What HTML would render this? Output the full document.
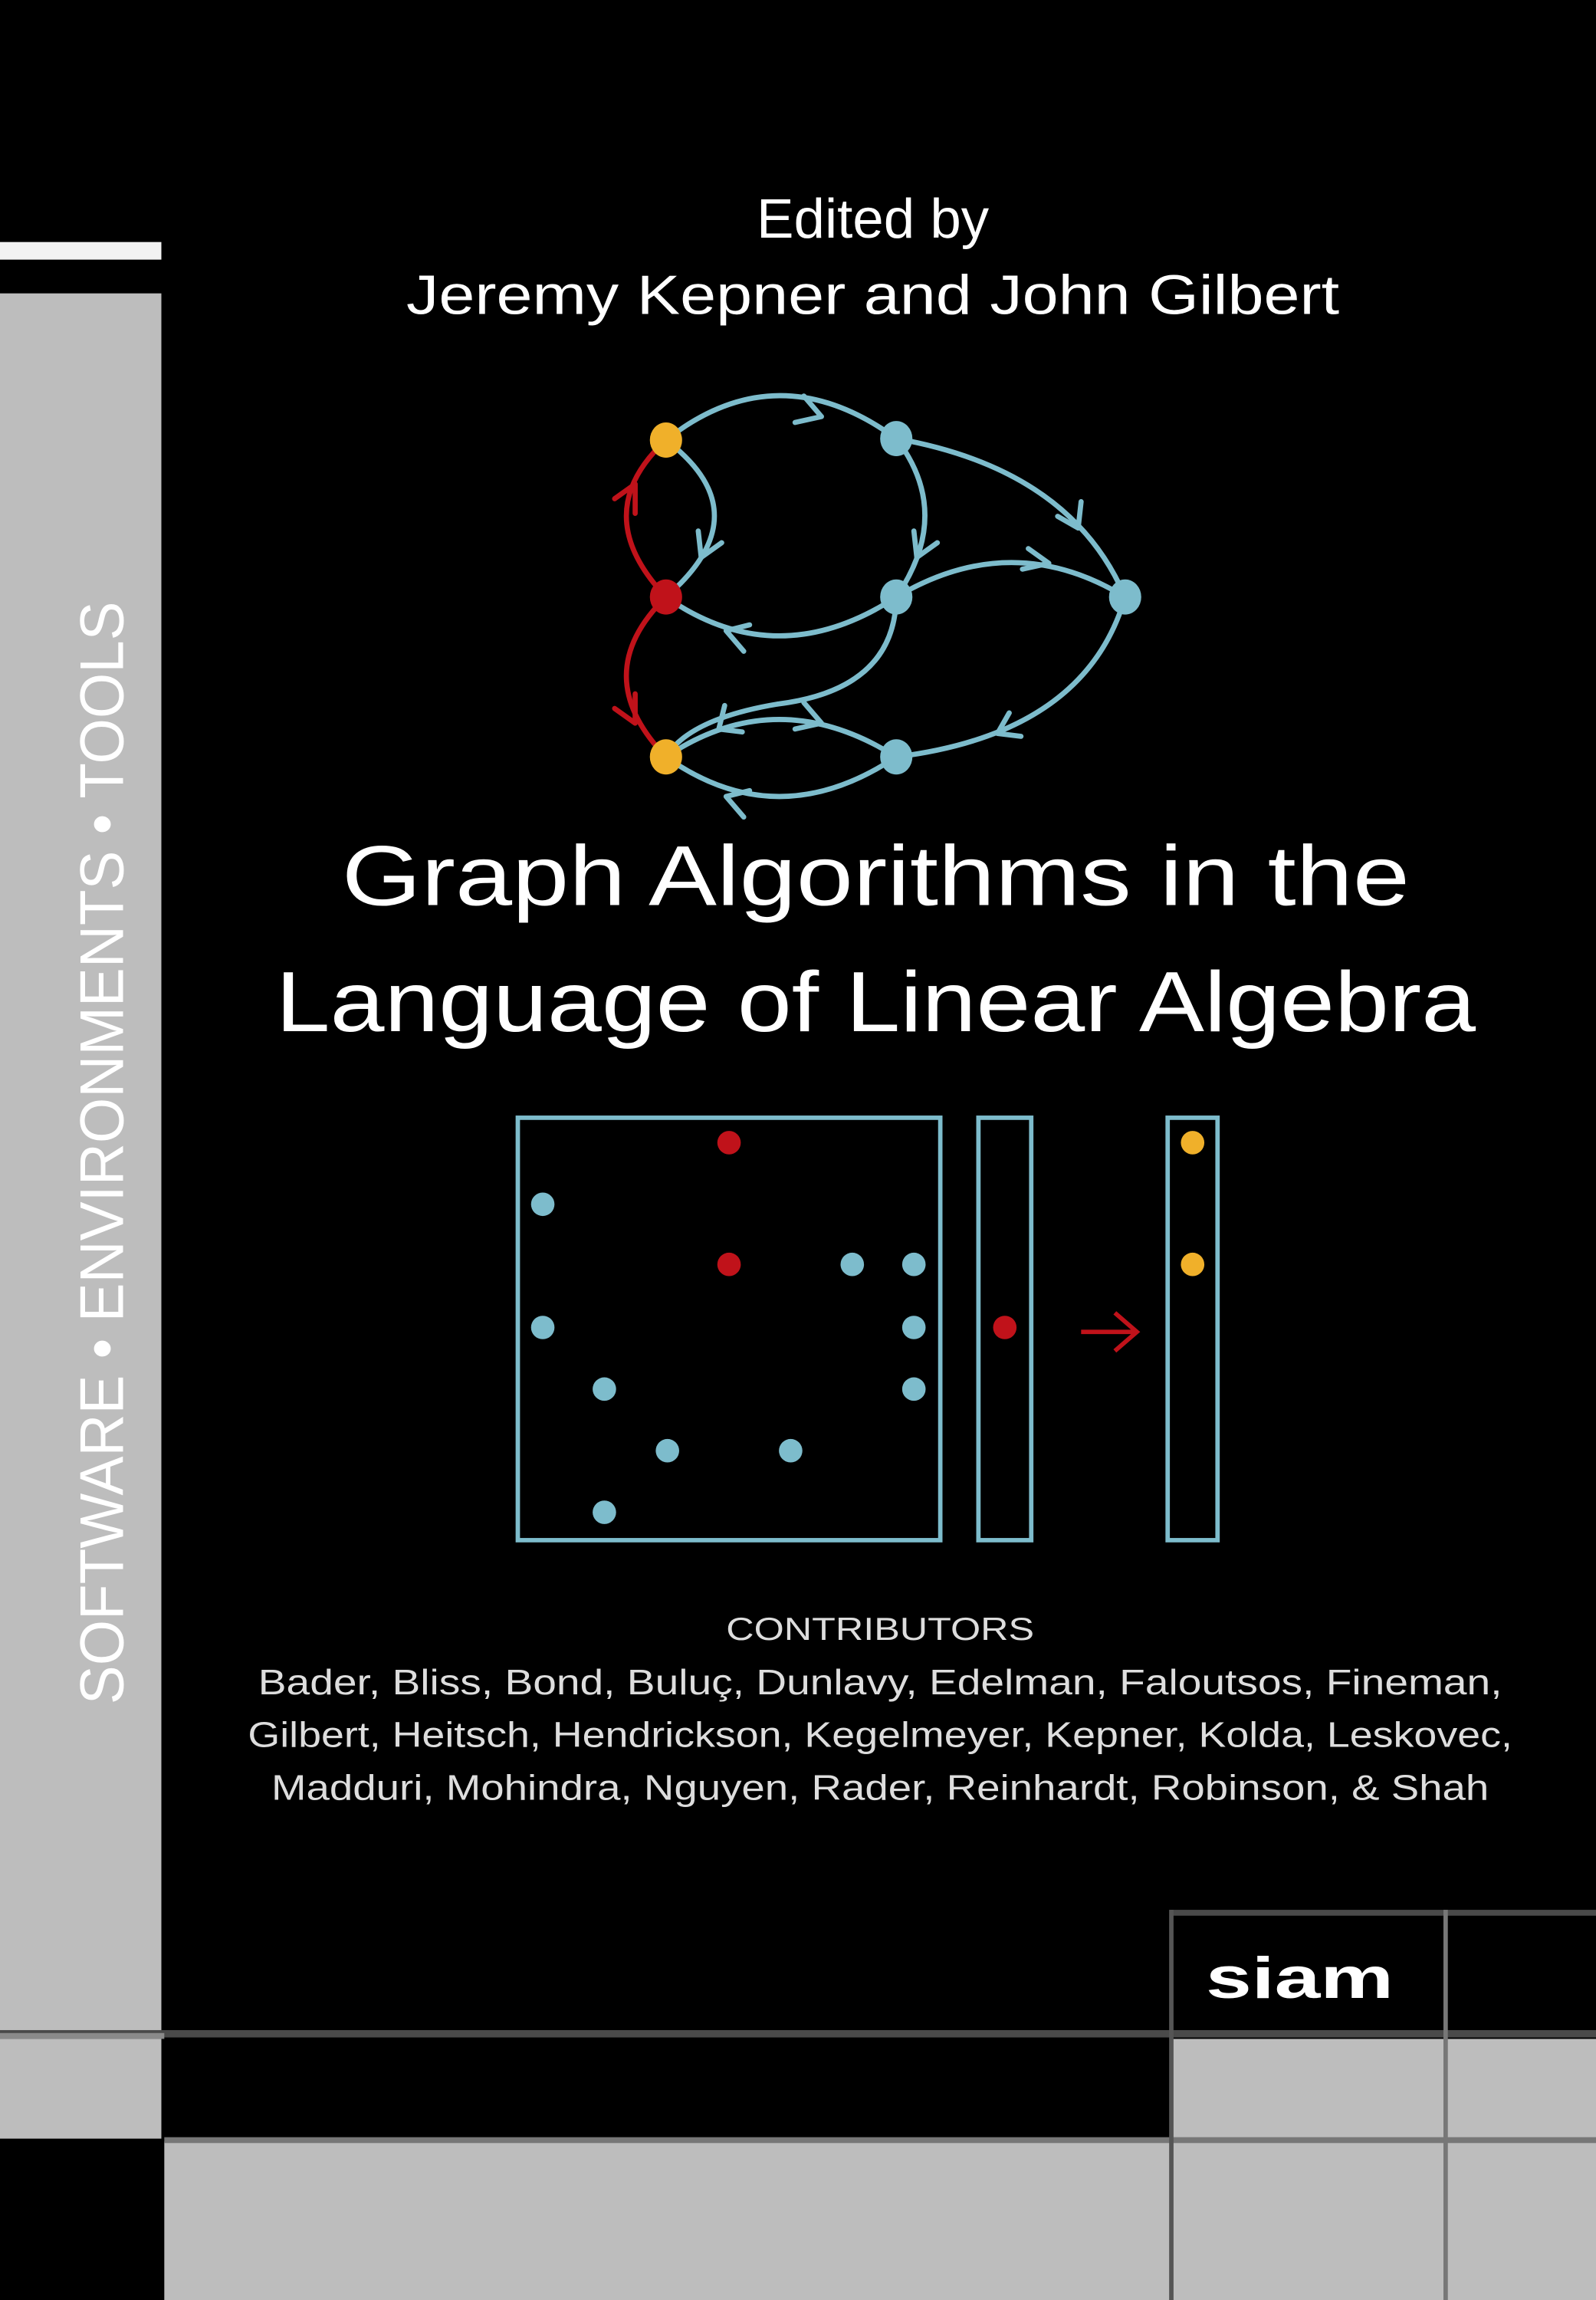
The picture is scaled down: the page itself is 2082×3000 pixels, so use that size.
<!DOCTYPE html>
<html><head><meta charset="utf-8">
<style>html,body{margin:0;padding:0;background:#000}svg{display:block}</style></head>
<body>
<svg width="2082" height="3000" viewBox="0 0 1088 1568" preserveAspectRatio="none" xmlns="http://www.w3.org/2000/svg" font-family="Liberation Sans, sans-serif">
<rect width="1088" height="1568" fill="#000"/>
<g>
<rect x="0" y="165" width="110" height="12" fill="#f2f2f2"/>
<rect x="0" y="200" width="110" height="1185" fill="#bdbdbd"/>
<rect x="0" y="1390" width="110" height="68" fill="#bdbdbd"/>
<rect x="0" y="1384" width="1088" height="5" fill="#4a4a4a"/>
<rect x="0" y="1386" width="112" height="4" fill="#8a8a8a"/>
<text transform="translate(84,1162) rotate(-90)" font-size="42" fill="#fff" textLength="752" lengthAdjust="spacingAndGlyphs">SOFTWARE • ENVIRONMENTS • TOOLS</text>
</g>
<g>
<rect x="112" y="1460" width="976" height="108" fill="#bdbdbd"/>
<rect x="798" y="1390" width="290" height="68" fill="#bdbdbd"/>
<rect x="112" y="1457" width="976" height="4" fill="#777"/>
<rect x="798" y="1302" width="290" height="4" fill="#4a4a4a"/>
<rect x="797" y="1302" width="3" height="266" fill="#555"/>
<rect x="984" y="1302" width="3" height="266" fill="#777"/>
<text x="822" y="1362" font-size="40" font-weight="bold" fill="#fff" textLength="128" lengthAdjust="spacingAndGlyphs">siam</text>
</g>
<g fill="#fff" text-anchor="middle">
<text x="595" y="162" font-size="38">Edited by</text>
<text x="595" y="214" font-size="38" textLength="636" lengthAdjust="spacingAndGlyphs">Jeremy Kepner and John Gilbert</text>
<text x="597" y="617" font-size="58" textLength="728" lengthAdjust="spacingAndGlyphs">Graph Algorithms in the</text>
<text x="597" y="703" font-size="58" textLength="818" lengthAdjust="spacingAndGlyphs">Language of Linear Algebra</text>
<text x="600" y="1118" font-size="22" fill="#ddd" textLength="210" lengthAdjust="spacingAndGlyphs">CONTRIBUTORS</text>
<text x="600" y="1155" font-size="24" fill="#ddd" textLength="848" lengthAdjust="spacingAndGlyphs">Bader, Bliss, Bond, Buluç, Dunlavy, Edelman, Faloutsos, Fineman,</text>
<text x="600" y="1191" font-size="24" fill="#ddd" textLength="862" lengthAdjust="spacingAndGlyphs">Gilbert, Heitsch, Hendrickson, Kegelmeyer, Kepner, Kolda, Leskovec,</text>
<text x="600" y="1227" font-size="24" fill="#ddd" textLength="830" lengthAdjust="spacingAndGlyphs">Madduri, Mohindra, Nguyen, Rader, Reinhardt, Robinson, &amp; Shah</text>
</g>
<g fill="none" stroke-width="3.5" stroke-linecap="round">
<g stroke="#7dbccc">
<path d="M454,300 Q530,240 611,299"/>
<path d="M454,300 Q520,350 454,407"/>
<path d="M611,299 Q650,350 611,407"/>
<path d="M611,299 Q730,320 767,407"/>
<path d="M611,407 Q690,360 767,407"/>
<path d="M611,407 Q530,460 454,407"/>
<path d="M611,407 Q610,470 530,480 Q470,490 454,516"/>
<path d="M454,516 Q530,465 611,516"/>
<path d="M611,516 Q530,570 454,516"/>
<path d="M767,407 Q740,500 611,516"/>
<path d="M560,284 l-12,-14 M560,284 l-18,4 M478,380 l-2,-18 M478,380 l14,-10 M625,380 l-2,-18 M625,380 l14,-10 M735,360 l-14,-8 M735,360 l2,-18 M715,384 l-14,-10 M715,384 l-18,4 M495,430 l12,14 M495,430 l16,-4 M490,497 l4,-16 M490,497 l16,2 M560,493 l-12,-14 M560,493 l-18,4 M495,543 l12,14 M495,543 l16,-4 M680,500 l8,-14 M680,500 l16,2"/>
</g>
<g stroke="#c0121a">
<path d="M454,407 Q400,350 454,300"/>
<path d="M454,407 Q400,460 454,516"/>
<path d="M433,330 l-14,10 M433,330 l0,20 M433,493 l-14,-10 M433,493 l0,-20"/>
</g>
<g stroke="none">
<ellipse cx="454" cy="300" rx="11" ry="12" fill="#f0b02a"/>
<ellipse cx="611" cy="299" rx="11" ry="12" fill="#7dbccc"/>
<ellipse cx="454" cy="407" rx="11" ry="12" fill="#c0121a"/>
<ellipse cx="611" cy="407" rx="11" ry="12" fill="#7dbccc"/>
<ellipse cx="767" cy="407" rx="11" ry="12" fill="#7dbccc"/>
<ellipse cx="454" cy="516" rx="11" ry="12" fill="#f0b02a"/>
<ellipse cx="611" cy="516" rx="11" ry="12" fill="#7dbccc"/>
</g>
</g>
<g>
<g fill="none" stroke="#7dbccc" stroke-width="3">
<rect x="353" y="762" width="288" height="288"/>
<rect x="667" y="762" width="36" height="288"/>
<rect x="796" y="762" width="34" height="288"/>
</g>
<path d="M737,908 H774 M760,895 L775,908 L760,921" stroke="#c0121a" stroke-width="3" fill="none"/>
<g fill="#c0121a"><circle cx="497" cy="779" r="8"/><circle cx="497" cy="862" r="8"/><circle cx="685" cy="905" r="8"/></g>
<g fill="#7dbccc"><circle cx="370" cy="821" r="8"/><circle cx="581" cy="862" r="8"/><circle cx="623" cy="862" r="8"/><circle cx="370" cy="905" r="8"/><circle cx="623" cy="905" r="8"/><circle cx="412" cy="947" r="8"/><circle cx="623" cy="947" r="8"/><circle cx="455" cy="989" r="8"/><circle cx="539" cy="989" r="8"/><circle cx="412" cy="1031" r="8"/></g>
<g fill="#f0b02a"><circle cx="813" cy="779" r="8"/><circle cx="813" cy="862" r="8"/></g>
</g>
</svg>
</body></html>
